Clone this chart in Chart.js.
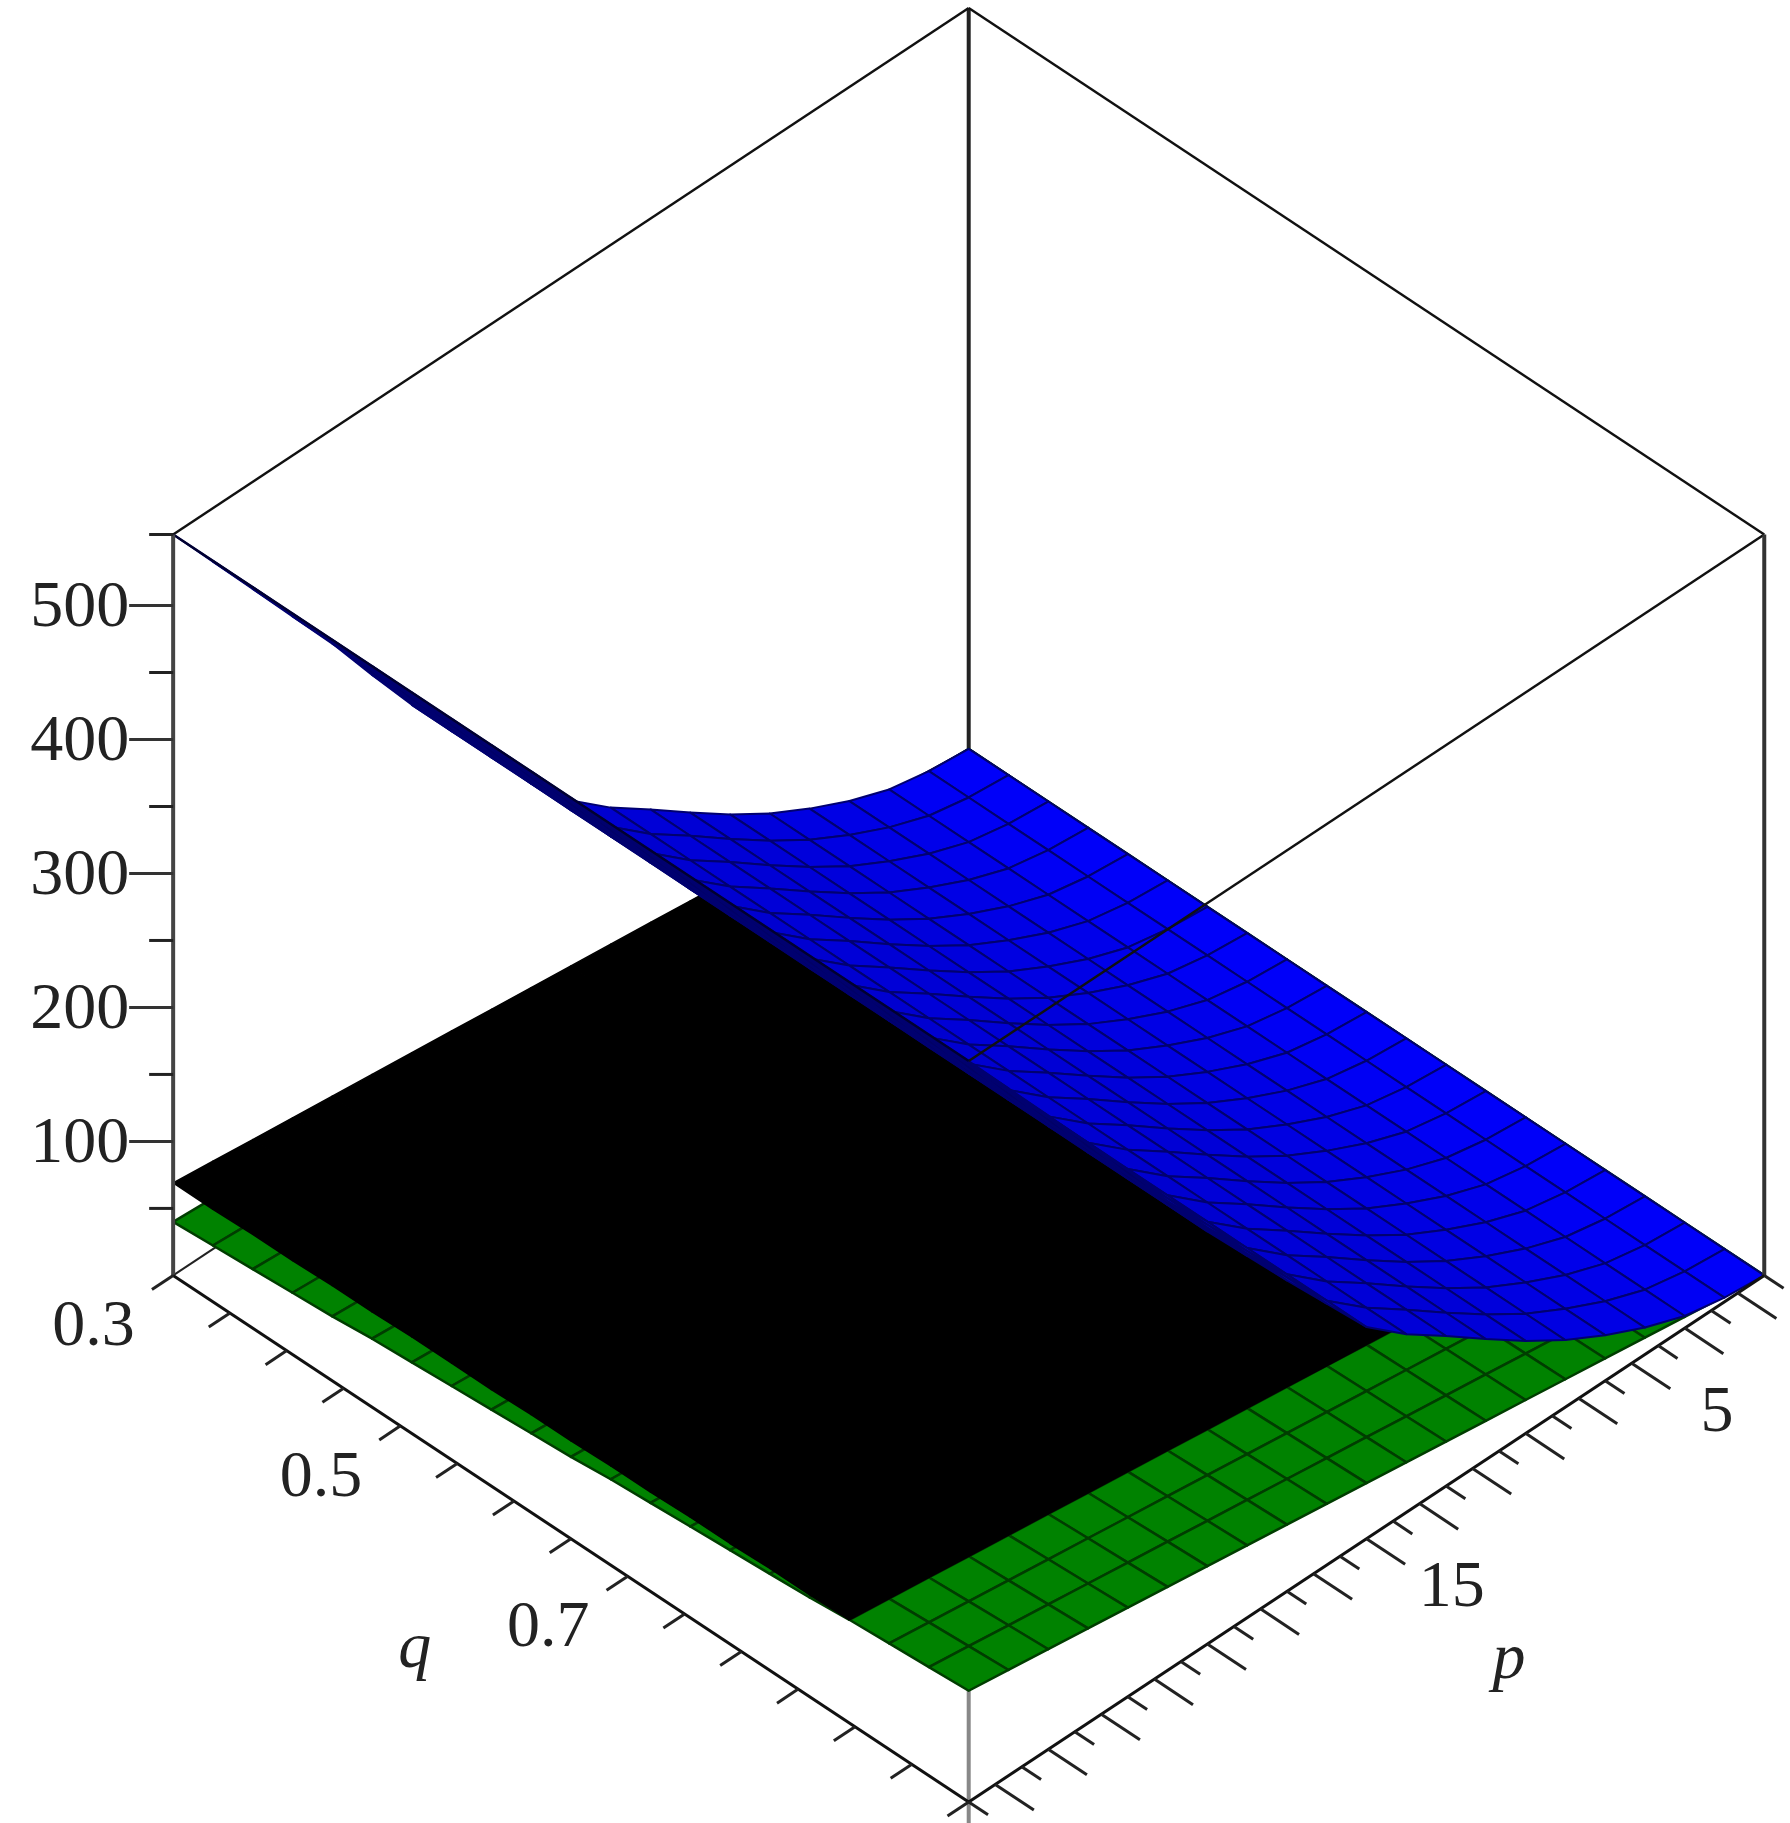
<!DOCTYPE html>
<html>
<head>
<meta charset="utf-8">
<script src="https://cdn.jsdelivr.net/npm/chart.js@4.4.0/dist/chart.umd.min.js"></script>
<style>
  html, body { margin: 0; padding: 0; background: #fff; }
  #wrap { width: 1790px; height: 1823px; }
</style>
</head>
<body>
<div id="wrap"><canvas id="surf" width="1790" height="1823"></canvas></div>
<script>
// grid of the plot (p along one floor edge, q along the other)
const pGrid = [0, 1.5, 3, 4.5, 6, 7.5, 9, 10.5, 12, 13.5, 15, 16.5, 18, 19.5, 21, 22.5, 24, 25.5, 27, 28.5, 30];
const qGrid = [0.3, 0.335, 0.37, 0.405, 0.44, 0.475, 0.51, 0.545, 0.58, 0.615, 0.65, 0.685, 0.72, 0.755, 0.79, 0.825, 0.86, 0.895, 0.93, 0.965, 1.0];

// blue surface height along p (nearly the same for every q)
const blueByP = [0, 3, 9, 20, 34, 50, 69, 90, 112, 133, 158, 195, 232, 270, 308, 350, 393, 433, 473, 513, 553];
// green and black planes: value at p = 30 along q, and relative size along p
const greenAtP30 = [40, 42, 44, 46, 48, 51, 53, 55, 57, 59, 61, 64, 66, 68, 70, 72, 74, 77, 79, 81, 83];
const blackAtP30 = [69, 69, 70, 70, 71, 71, 72, 72, 72, 73, 73, 74, 74, 75, 75, 76, 76, 77, 77, 78, 78];
const planeShapeP = [0, 0.05, 0.1, 0.15, 0.2, 0.25, 0.3, 0.35, 0.4, 0.45, 0.5, 0.55, 0.6, 0.65, 0.7, 0.75, 0.8, 0.85, 0.9, 0.95, 1];

const zTicks = [100, 200, 300, 400, 500];
const zMinor = [50, 150, 250, 350, 450];
const qTickLabels = [0.3, 0.5, 0.7];
const pTickLabels = [5, 15];
const zTop = 553;

// 3D -> plot coordinates (x/y values of the chart's scales)
function proj(p, q, z) {
  const a = (q - 0.3) / 0.7, b = (30 - p) / 30;
  return { x: 148 + 680 * (a + b), y: 1090 + 450 * (a - b) - 1.145 * z };
}

const surfacePlugin = {
  id: 'surface3d',
  afterDatasetsDraw(chart) {
    const ctx = chart.ctx, sx = chart.scales.x, sy = chart.scales.y;
    const P = (p, q, z) => { const v = proj(p, q, z); return [sx.getPixelForValue(v.x), sy.getPixelForValue(v.y)]; };
    const line = (A, B, color, w) => {
      ctx.beginPath(); ctx.moveTo(A[0], A[1]); ctx.lineTo(B[0], B[1]);
      ctx.strokeStyle = color; ctx.lineWidth = w; ctx.stroke();
    };
    const poly = (pts, fill, stroke, w) => {
      ctx.beginPath(); ctx.moveTo(pts[0][0], pts[0][1]);
      for (let i = 1; i < pts.length; i++) ctx.lineTo(pts[i][0], pts[i][1]);
      ctx.closePath(); ctx.fillStyle = fill; ctx.fill();
      if (stroke) { ctx.strokeStyle = stroke; ctx.lineWidth = w; ctx.stroke(); }
    };
    ctx.save();
    ctx.lineJoin = 'round';

    // hidden box edges first
    line(P(0, 0.3, 0), P(0, 0.3, zTop), '#222', 4);
    line(P(0, 0.3, 0), P(30, 0.3, 0), '#222', 2);
    line(P(0, 0.3, 0), P(0, 1, 0), '#222', 2);
    line(P(30, 1, 0), P(30, 1, zTop), '#888', 4);

    const cells = [];
    for (let i = 0; i < pGrid.length - 1; i++) {
      for (let j = 0; j < qGrid.length - 1; j++) cells.push([i, j]);
    }
    // back-to-front order
    const depth = c => (c[1]) - (pGrid.length - 2 - c[0]);
    cells.sort((u, v) => depth(u) - depth(v));

    const green = (i, j) => greenAtP30[j] * planeShapeP[i];
    const black = (i, j) => blackAtP30[j] * planeShapeP[i];
    const quad = (f, i, j) => [
      P(pGrid[i], qGrid[j], f(i, j)), P(pGrid[i + 1], qGrid[j], f(i + 1, j)),
      P(pGrid[i + 1], qGrid[j + 1], f(i + 1, j + 1)), P(pGrid[i], qGrid[j + 1], f(i, j + 1))
    ];

    // green plane
    cells.forEach(([i, j]) => poly(quad(green, i, j), '#008200', '#003d00', 2.5));
    // black plane where it lies above the green one
    cells.forEach(([i, j]) => {
      const g = green(i, j) + green(i + 1, j + 1), k = black(i, j) + black(i + 1, j + 1);
      if (k > g) poly(quad(black, i, j), '#000', '#000', 1.5);
    });
    // blue surface with simple shading
    const blue = (i) => blueByP[i];
    cells.forEach(([i, j]) => {
      const pts = quad((ii) => blue(ii), i, j);
      // signed area decides whether we see the top or the underside
      let area = 0;
      for (let k = 0; k < 4; k++) {
        const A = pts[k], B = pts[(k + 1) % 4];
        area += A[0] * B[1] - B[0] * A[1];
      }
      const dz = (blue(i + 1) - blue(i)) / 1.5;
      let col;
      if (area < 0) {
        const br = Math.max(0.5, 1 - dz / 90);
        col = 'rgb(0,0,' + Math.round(255 * br) + ')';
      } else {
        col = 'rgb(0,0,' + Math.round(60 + dz * 1.5) + ')';
      }
      poly(pts, col, '#000070', 2);
    });

    // visible box edges
    const boxC = '#111';
    line(P(30, 0.3, zTop), P(0, 0.3, zTop), boxC, 2.5);
    line(P(0, 0.3, zTop), P(0, 1, zTop), boxC, 2.5);
    line(P(0, 1, zTop), P(30, 1, zTop), boxC, 2.5);
    line(P(30, 1, zTop), P(30, 0.3, zTop), '#000030', 2.5);
    line(P(30, 0.3, 0), P(30, 0.3, zTop), '#444', 4);
    line(P(0, 1, 0), P(0, 1, zTop), '#333', 4);
    line(P(30, 0.3, 0), P(30, 1, 0), boxC, 3);
    line(P(30, 1, 0), P(0, 1, 0), boxC, 3);
    line(P(30, 1, 0), P(30, 1, -60), '#888', 4);

    // z axis ticks and labels
    ctx.font = '66px "Liberation Serif", "DejaVu Serif", serif';
    ctx.fillStyle = '#222';
    ctx.textAlign = 'right'; ctx.textBaseline = 'middle';
    const zx = sx.getPixelForValue(148);
    zTicks.forEach(z => {
      const y = sy.getPixelForValue(proj(30, 0.3, z).y);
      line([zx, y], [zx - 44, y], '#333', 3);
      ctx.fillText(String(z), zx - 44, y + 3);
    });
    zMinor.forEach(z => {
      const y = sy.getPixelForValue(proj(30, 0.3, z).y);
      line([zx, y], [zx - 24, y], '#222', 3);
    });
    const yTop = sy.getPixelForValue(proj(30, 0.3, zTop).y);
    line([zx, yTop], [zx - 24, yTop], '#222', 3);

    // q axis ticks (pointing out past p = 30)
    for (let k = 0; k <= 14; k++) {
      const q = 0.3 + k * 0.05;
      line(P(30, q, 0), P(30.8, q, 0), '#222', 3);
    }
    ctx.textAlign = 'center';
    qTickLabels.forEach(q => {
      const t = P(33, q, 0);
      ctx.fillText(q.toFixed(1), t[0], t[1]);
    });
    // p axis ticks (pointing out past q = 1)
    for (let p = 0; p <= 30; p++) {
      const len = p % 2 === 1 ? 0.034 : 0.017;
      line(P(p, 1, 0), P(p, 1 + len, 0), '#222', 3);
    }
    pTickLabels.forEach(p => {
      const t = P(p, 1.075, 0);
      ctx.fillText(String(p), t[0], t[1] - 6);
    });
    // axis titles
    ctx.font = 'italic 66px "Liberation Serif", "DejaVu Serif", serif';
    const ql = P(36.1, 0.655, 0);
    ctx.fillText('q', ql[0], ql[1]);
    const pl = P(15.8, 1.144, 0);
    ctx.fillText('p', pl[0], pl[1]);
    ctx.restore();
  }
};

new Chart(document.getElementById('surf'), {
  type: 'scatter',
  data: { datasets: [{ data: [], showLine: false }] },
  options: {
    responsive: false,
    devicePixelRatio: 1,
    animation: false,
    layout: { padding: 0 },
    plugins: { legend: { display: false }, tooltip: { enabled: false } },
    scales: {
      x: { type: 'linear', display: false, min: 0, max: 1530 },
      y: { type: 'linear', display: false, min: 0, max: 1558, reverse: true }
    }
  },
  plugins: [surfacePlugin]
});
</script>
</body>
</html>
